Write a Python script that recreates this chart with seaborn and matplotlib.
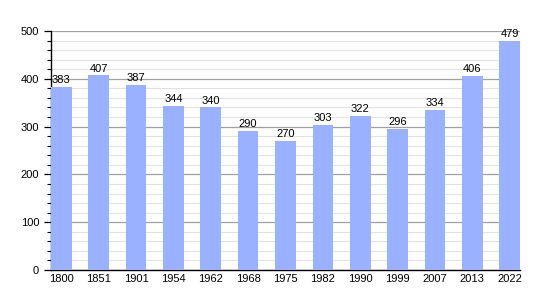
import matplotlib
matplotlib.use("Agg")
import matplotlib.pyplot as plt
import seaborn as sns
import pandas as pd
from matplotlib.ticker import MultipleLocator

years = ["1800", "1851", "1901", "1954", "1962", "1968", "1975", "1982", "1990", "1999", "2007", "2013", "2022"]
population = [383, 407, 387, 344, 340, 290, 270, 303, 322, 296, 334, 406, 479]

df = pd.DataFrame({"year": years, "pop": population})

sns.set_style("white")
plt.rcParams["font.family"] = ["Liberation Sans", "DejaVu Sans"]
plt.rcParams["text.color"] = "black"
plt.rcParams["xtick.color"] = "black"
plt.rcParams["ytick.color"] = "black"

fig = plt.figure(figsize=(5.5, 3.0), dpi=100)
ax = fig.add_axes([51/550, 0.1, (520-51)/550, (270-31)/300])

w = 0.55
sns.barplot(data=df, x="year", y="pop", order=years, color="#99b1ff", saturation=1,
            width=w, ax=ax, zorder=3, linewidth=0)

ax.set_ylim(0, 500)
ax.set_xlim(-w/2, len(years) - 1 + w/2)
ax.yaxis.set_major_locator(MultipleLocator(100))
ax.yaxis.set_minor_locator(MultipleLocator(20))
ax.grid(which="major", axis="y", color="#a0a0a0", linewidth=0.9, zorder=0)
ax.grid(which="minor", axis="y", color="#e2e2e2", linewidth=0.8, zorder=0)
ax.set_axisbelow(True)

for s in ["top", "right"]:
    ax.spines[s].set_visible(False)
for s in ["left", "bottom"]:
    ax.spines[s].set_color("black")
    ax.spines[s].set_linewidth(1.0)

ax.tick_params(axis="y", which="major", length=5, width=0.9, color="black", labelcolor="black",
               labelsize=8, direction="out", left=True)
ax.tick_params(axis="y", which="minor", length=3, width=0.8, color="black", left=True)
ax.tick_params(axis="x", length=0, labelsize=8, pad=3, labelcolor="black")
ax.set_xlabel("")
ax.set_ylabel("")

for i, v in enumerate(population):
    ax.text(i, v + 4, str(v), ha="center", va="bottom", fontsize=8, color="black", zorder=5)

fig.savefig("out.png", dpi=100)
